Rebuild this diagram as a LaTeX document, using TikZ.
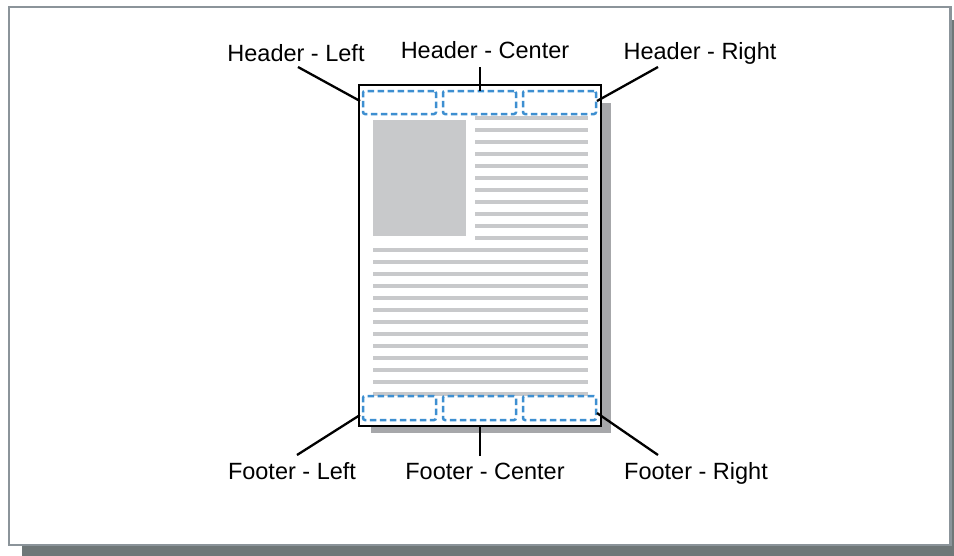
\documentclass[tikz,border=0pt]{standalone}
\usepackage{fontspec}
\setmainfont{Liberation Sans}
\definecolor{framegray}{HTML}{8B949A}
\definecolor{frameshadow}{HTML}{6F7778}
\definecolor{pageshadow}{HTML}{A6A7AA}
\definecolor{blockgray}{HTML}{C8C9CB}
\definecolor{dashblue}{HTML}{3D8FD1}
\begin{document}
\begin{tikzpicture}[x=1pt,y=-1pt,
  lbl/.style={inner sep=0pt, anchor=base, font=\fontsize{23.5}{28}\selectfont},
  leader/.style={draw=black, line width=2.3pt},
  zonebox/.style={draw=dashblue, fill=white, line width=2.5pt, dash pattern=on 6.5pt off 3.5pt,
    rounded corners=2pt, minimum width=73pt, inner sep=0pt},
  txtline/.style={fill=blockgray}
]
\useasboundingbox (0,0) rectangle (954,555);
\clip (0,0) rectangle (954,555);
% outer frame with shadow
\fill[frameshadow] (22,20) rectangle (970,570);
\draw[framegray, fill=white, line width=2.5pt] (9,7) rectangle (950.5,545);
% page shadow and page
\fill[pageshadow] (371,103) rectangle (611,433);
\draw[black, fill=white, line width=1.8pt] (359,85) rectangle (601,426);
% picture block
\fill[blockgray] (373,120) rectangle (466,236);
% right column text lines
\foreach \k in {0,...,10}{
  \fill[txtline] (475,{118+12*\k-1.9}) rectangle (588,{118+12*\k+1.9});
}
% full width text lines
\foreach \k in {0,...,12}{
  \fill[txtline] (373,{250+12*\k-1.9}) rectangle (588,{250+12*\k+1.9});
}
% header and footer zones
\node[zonebox, minimum height=23pt] (hlbox) at (399.5,102.5) {};
\node[zonebox, minimum height=23pt] (hcbox) at (479.5,102.5) {};
\node[zonebox, minimum height=23pt] (hrbox) at (559.5,102.5) {};
\node[zonebox, minimum height=24pt] (flbox) at (399.5,408) {};
\node[zonebox, minimum height=24pt] (fcbox) at (479.5,408) {};
\node[zonebox, minimum height=24pt] (frbox) at (559.5,408) {};
% labels
\node[lbl] (hl) at (296,61) {Header - Left};
\node[lbl] (hc) at (485,58) {Header - Center};
\node[lbl] (hr) at (700,59) {Header - Right};
\node[lbl] (fl) at (292,479) {Footer - Left};
\node[lbl] (fc) at (485,479) {Footer - Center};
\node[lbl] (fr) at (696,479) {Footer - Right};
% leader end points
\coordinate (hl-a) at (298,67);
\coordinate (hl-b) at (360,101);
\coordinate (hc-a) at (480,67);
\coordinate (hc-b) at (480,91);
\coordinate (hr-a) at (658,67);
\coordinate (hr-b) at (597,101);
\coordinate (fl-a) at (297,455);
\coordinate (fl-b) at (360,415);
\coordinate (fc-a) at (480,456);
\coordinate (fc-b) at (480,427);
\coordinate (fr-a) at (658,455);
\coordinate (fr-b) at (597,413);
\draw[leader] (hl-a) -- (hl-b);
\draw[leader] (hc-a) -- (hc-b);
\draw[leader] (hr-a) -- (hr-b);
\draw[leader] (fl-a) -- (fl-b);
\draw[leader] (fc-a) -- (fc-b);
\draw[leader] (fr-a) -- (fr-b);
\end{tikzpicture}
\end{document}
